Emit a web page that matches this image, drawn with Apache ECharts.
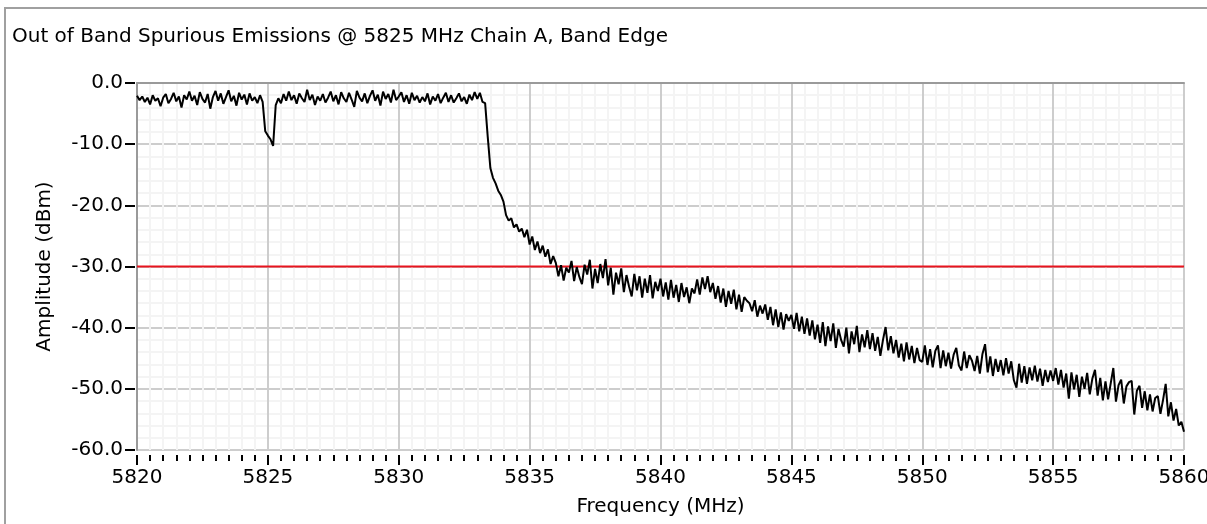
<!DOCTYPE html>
<html>
<head>
<meta charset="utf-8">
<script src="https://cdn.jsdelivr.net/npm/echarts@6/dist/echarts.min.js"></script>
<style>
  html, body { margin: 0; padding: 0; background: #fff; }
  #chart { width: 1207px; height: 524px; }
</style>
</head>
<body>
<div id="chart"></div>
<script>
// sweep settings (MHz)
var freqStart = 5820;
var freqStep = 0.1;
var freqMin = 5820, freqMax = 5860;
var limitLevel = -30;

// amplitude (dBm), one row per MHz
var amp5820 = [
  -2.1,-2.8,-2.2,-3.1,-2.4,-3.5,-2.0,-2.9,-2.5,-3.8,
  -2.4,-1.8,-3.3,-2.6,-1.6,-3.0,-2.2,-4.0,-2.0,-2.7,
  -1.4,-2.9,-2.1,-3.6,-1.5,-2.6,-3.2,-1.8,-4.2,-2.3,
  -1.3,-2.9,-1.7,-3.4,-2.3,-1.2,-3.0,-2.1,-3.7,-1.6,
  -2.7,-1.9,-3.5,-1.7,-2.9,-2.3,-3.3,-2.0,-3.1,-7.9,
  -8.6,-9.2,-10.3,-3.6,-2.5,-3.3,-1.8,-2.9,-1.4,-2.8,
  -2.0,-3.4,-1.7,-2.5,-3.1,-1.1,-2.8,-1.9,-3.6,-2.2,
  -2.9,-1.8,-3.2,-2.4,-1.4,-3.0,-2.0,-3.5,-1.5,-2.5,
  -3.1,-1.6,-2.7,-3.9,-1.3,-2.4,-3.0,-1.7,-3.3,-2.1,
  -1.2,-2.9,-1.9,-3.7,-1.4,-2.6,-1.8,-3.2,-1.1,-2.8
];
var amp5830 = [
  -2.2,-1.5,-3.1,-2.0,-3.4,-1.6,-2.8,-2.1,-3.2,-2.3,
  -3.0,-1.7,-3.5,-2.2,-2.9,-1.8,-3.3,-2.4,-1.6,-3.1,
  -2.0,-3.2,-2.5,-1.7,-3.0,-2.3,-3.4,-1.9,-2.8,-1.5,
  -2.6,-1.6,-3.1,-3.3,-8.8,-13.9,-15.5,-16.4,-17.6,-18.3,
  -19.4,-21.6,-22.5,-22.1,-23.6,-23.1,-24.3,-23.8,-25.2,-24.0,
  -26.4,-25.1,-27.3,-25.9,-27.8,-26.6,-28.4,-27.2,-29.6,-28.3,
  -29.4,-31.6,-29.8,-32.3,-30.2,-31.0,-29.1,-32.4,-30.1,-31.7,
  -32.9,-29.7,-31.3,-28.9,-33.6,-30.4,-32.7,-29.6,-31.9,-28.8,
  -33.1,-30.2,-34.6,-31.0,-32.9,-30.3,-34.2,-31.4,-33.3,-34.9,
  -31.2,-33.9,-31.6,-35.1,-32.0,-34.3,-31.4,-35.2,-32.5,-34.0
];
var amp5840 = [
  -32.0,-34.9,-32.6,-35.4,-32.2,-35.1,-33.0,-35.8,-32.7,-35.0,
  -33.4,-36.0,-33.6,-34.4,-32.1,-34.6,-31.8,-33.7,-31.6,-34.2,
  -32.7,-35.3,-33.2,-35.9,-33.6,-36.6,-34.0,-36.1,-33.8,-37.0,
  -34.6,-37.4,-35.0,-35.6,-36.0,-37.3,-35.5,-38.2,-36.4,-37.7,
  -36.2,-38.7,-36.6,-39.6,-37.0,-39.9,-37.5,-40.3,-37.8,-38.9,
  -37.9,-40.2,-37.6,-40.6,-38.2,-41.0,-38.5,-41.3,-38.8,-41.9,
  -39.5,-42.5,-39.1,-43.0,-39.8,-42.2,-39.3,-43.3,-40.2,-42.0,
  -43.1,-40.0,-44.2,-40.6,-42.7,-39.7,-44.0,-41.1,-43.2,-40.4,
  -43.5,-40.9,-43.8,-41.5,-44.6,-42.0,-39.9,-43.7,-41.4,-44.2,
  -42.0,-44.9,-42.6,-45.5,-42.4,-45.2,-43.0,-45.8,-43.3,-45.3
];
var amp5850 = [
  -45.6,-42.9,-46.1,-43.5,-46.5,-43.8,-42.9,-46.6,-43.7,-46.3,
  -44.1,-46.7,-44.4,-43.3,-46.2,-47.0,-43.9,-46.6,-44.5,-45.4,
  -47.1,-44.6,-47.5,-44.3,-42.7,-47.3,-44.7,-47.9,-45.1,-47.2,
  -45.3,-47.8,-45.0,-47.5,-45.5,-48.6,-49.8,-45.9,-49.0,-46.3,
  -49.2,-46.5,-48.6,-46.2,-48.8,-46.7,-49.5,-46.9,-48.9,-47.0,
  -48.7,-46.6,-49.3,-46.9,-49.8,-47.5,-51.6,-47.3,-50.1,-47.7,
  -51.3,-48.0,-50.0,-47.4,-50.9,-48.3,-46.9,-51.1,-48.2,-51.9,
  -48.8,-51.7,-49.1,-46.6,-52.1,-49.4,-48.5,-52.4,-49.6,-48.9,
  -48.7,-54.2,-50.3,-49.5,-53.1,-50.4,-53.5,-50.9,-53.7,-51.5,
  -51.2,-54.1,-51.8,-49.2,-54.5,-52.2,-55.2,-53.3,-56.0,-55.4,
  -57.0
];

var amplitude = amp5820.concat(amp5830, amp5840, amp5850);
var trace = amplitude.map(function (v, i) {
  return [Math.round((freqStart + i * freqStep) * 10) / 10, v];
});
var limitLine = [[freqMin, limitLevel], [freqMax, limitLevel]];

var font = 'DejaVu Sans';
var dom = document.getElementById('chart');
var myChart = echarts.init(dom, null, { renderer: 'canvas' });

var option = {
    animation: false,
    backgroundColor: '#ffffff',
    textStyle: { fontFamily: font, color: '#000' },
    title: {
        text: 'Out of Band Spurious Emissions @ 5825 MHz Chain A, Band Edge',
        left: 7,
        top: 22,
        textStyle: { fontFamily: font, fontSize: 20, fontWeight: 'normal', color: '#000' }
    },
    graphic: [{
        type: 'rect',
        shape: { x: 5, y: 8, width: 1300, height: 600 },
        style: { fill: 'none', stroke: '#a0a0a0', lineWidth: 2 },
        silent: true
    }],
    grid: { left: 137, right: 23, top: 83, bottom: 74, show: false, outerBoundsMode: 'none', containLabel: false },
    xAxis: [{
        type: 'value',
        min: freqMin,
        max: freqMax,
        interval: 5,
        offset: 5,
        position: 'bottom',
        name: 'Frequency (MHz)',
        nameLocation: 'middle',
        nameGap: 42,
        nameTextStyle: { fontFamily: font, fontSize: 20, color: '#000' },
        axisLine: { show: false, onZero: false },
        axisTick: { show: true, length: 10, lineStyle: { color: '#000', width: 2 } },
        minorTick: { show: true, splitNumber: 10, length: 6, lineStyle: { color: '#000', width: 2 } },
        axisLabel: {
            margin: 13,
            fontFamily: font,
            fontSize: 20,
            color: '#000',
            formatter: function (v) { return String(v); }
        },
        splitLine: { show: true, lineStyle: { color: '#cdcdcd', width: 2 } },
        minorSplitLine: { show: true, lineStyle: { color: '#f4f4f4', width: 2 } }
    }, {
        type: 'value',
        min: freqMin,
        max: freqMax,
        position: 'top',
        axisLine: { show: true, onZero: false, lineStyle: { color: '#9a9a9a', width: 2 } },
        axisTick: { show: false },
        axisLabel: { show: false },
        splitLine: { show: false }
    }],
    yAxis: [{
        type: 'value',
        min: -60,
        max: 0,
        interval: 10,
        offset: 2,
        name: 'Amplitude (dBm)',
        nameLocation: 'middle',
        nameGap: 80,
        nameTextStyle: { fontFamily: font, fontSize: 20, color: '#000' },
        axisLine: { show: false, onZero: false },
        axisTick: { show: true, length: 10, lineStyle: { color: '#000', width: 2 } },
        minorTick: { show: false, splitNumber: 5 },
        axisLabel: {
            margin: 12,
            fontFamily: font,
            fontSize: 20,
            color: '#000',
            formatter: function (v) { return v.toFixed(1); }
        },
        splitLine: { show: true, lineStyle: { color: '#cdcdcd', width: 2 } },
        minorSplitLine: { show: true, lineStyle: { color: '#f4f4f4', width: 2 } }
    }, {
        type: 'value',
        min: -60,
        max: 0,
        position: 'left',
        axisLine: { show: true, onZero: false, lineStyle: { color: '#9a9a9a', width: 2 } },
        axisTick: { show: false },
        axisLabel: { show: false },
        splitLine: { show: false }
    }],
    series: [{
        name: 'Limit',
        type: 'line',
        data: limitLine,
        showSymbol: false,
        lineStyle: { color: '#e8141e', width: 2 },
        z: 3
    }, {
        name: 'Chain A',
        type: 'line',
        data: trace,
        showSymbol: false,
        lineStyle: { color: '#000', width: 2 },
        z: 4
    }]
};

if (option && typeof option === "object") {
    myChart.setOption(option, true);
}
</script>
</body>
</html>
